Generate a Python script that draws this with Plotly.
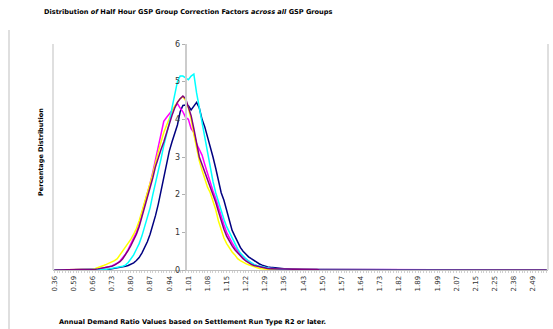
import plotly.graph_objects as go

# ---------------- data ----------------
cats_low = ["0.36", "0.44", "0.49", "0.52", "0.54", "0.56", "0.58"]
cats_mid = [f"{v / 100:.2f}" for v in range(59, 165)]
cats_high = ["1.65", "1.66", "1.67", "1.69", "1.70", "1.72", "1.73",
             "1.74", "1.76", "1.77", "1.78", "1.80", "1.81", "1.82",
             "1.83", "1.84", "1.85", "1.86", "1.87", "1.88", "1.89",
             "1.90", "1.92", "1.93", "1.95", "1.96", "1.98", "1.99",
             "2.00", "2.01", "2.02", "2.03", "2.04", "2.06", "2.07",
             "2.08", "2.09", "2.10", "2.11", "2.12", "2.14", "2.15",
             "2.16", "2.17", "2.19", "2.20", "2.22", "2.23", "2.25",
             "2.26", "2.28", "2.30", "2.32", "2.34", "2.36", "2.38",
             "2.39", "2.41", "2.42", "2.44", "2.45", "2.47", "2.49",
             "2.52", "2.56", "2.61", "2.68", "2.77"]
categories = cats_low + cats_mid + cats_high
tick_labels = ["0.36", "0.59", "0.66", "0.73", "0.80", "0.87", "0.94", "1.01", "1.08",
               "1.15", "1.22", "1.29", "1.36", "1.43", "1.50", "1.57", "1.64", "1.73",
               "1.82", "1.89", "1.99", "2.07", "2.15", "2.25", "2.38", "2.49"]
y_ticks = [0, 1, 2, 3, 4, 5, 6]

zeros_left = [0, 0, 0, 0, 0, 0, 0, 0, 0, 0, 0, 0, 0]  # 0.36 .. 0.64

navy = zeros_left + [
    0, 0, 0.01, 0.01, 0.01, 0.02, 0.02, 0.02, 0.03, 0.04, 0.05, 0.06, 0.08, 0.10, 0.12,
    0.15, 0.19, 0.25, 0.33, 0.45, 0.58, 0.75, 0.95, 1.18, 1.45, 1.75, 2.1, 2.4, 2.75,
    3.15, 3.4, 3.6, 3.85, 4.2, 4.37, 4.38, 4.36, 4.25, 4.35, 4.45, 4.3, 4.0, 3.8, 3.55,
    3.3, 3.0, 2.7, 2.35, 2.05, 1.85, 1.6, 1.3, 1.05, 0.9, 0.75, 0.6, 0.5, 0.42, 0.35,
    0.3, 0.25, 0.2, 0.16, 0.13, 0.1, 0.08, 0.07, 0.06, 0.05, 0.04, 0.04, 0.03, 0.03,
    0.02, 0.02, 0.02,
    0.01, 0.01, 0.01, 0.01, 0.01, 0.01, 0.01, 0.01, 0.01, 0.01, 0.01, 0.01, 0.01, 0.01,
    0, 0, 0, 0, 0, 0, 0, 0, 0, 0, 0, 0, 0, 0, 0, 0, 0, 0, 0, 0, 0, 0, 0, 0, 0, 0, 0, 0,
    0, 0, 0, 0, 0, 0, 0, 0, 0, 0, 0, 0, 0, 0, 0, 0, 0, 0, 0, 0, 0, 0, 0, 0, 0, 0, 0, 0,
    0, 0, 0, 0, 0, 0, 0, 0, 0, 0, 0, 0, 0, 0, 0, 0, 0, 0, 0, 0, 0, 0, 0, 0]

magenta = zeros_left + [
    0, 0.01, 0.02, 0.03, 0.04, 0.05, 0.07, 0.09, 0.11, 0.14, 0.18, 0.24, 0.32, 0.42,
    0.55, 0.7, 0.85, 1.0, 1.25, 1.5, 1.75, 2.0, 2.3, 2.6, 2.95, 3.3, 3.6, 3.95, 4.05,
    4.15, 4.25, 4.35, 4.42, 4.3, 4.2, 4.05, 4.0, 3.75, 3.65, 3.35, 3.2, 3.05, 2.8, 2.55,
    2.3, 2.1, 1.9, 1.65, 1.4, 1.2, 1.0, 0.85, 0.72, 0.6, 0.5, 0.42, 0.34, 0.28, 0.22,
    0.18, 0.14, 0.11, 0.09, 0.07, 0.06, 0.05, 0.04, 0.03, 0.03, 0.02, 0.02, 0.02, 0.01,
    0.01, 0.01, 0.01,
    0.01, 0.01, 0.01, 0.01, 0.01, 0.01, 0.01, 0.01, 0.01, 0.01, 0, 0, 0, 0,
    0, 0, 0, 0, 0, 0, 0, 0, 0, 0, 0, 0, 0, 0, 0, 0, 0, 0, 0, 0, 0, 0, 0, 0, 0, 0, 0, 0,
    0, 0, 0, 0, 0, 0, 0, 0, 0, 0, 0, 0, 0, 0, 0, 0, 0, 0, 0, 0, 0, 0, 0, 0, 0, 0, 0, 0,
    0, 0, 0, 0, 0, 0, 0, 0, 0, 0, 0, 0, 0, 0, 0, 0, 0, 0, 0, 0, 0, 0, 0, 0]

yellow = zeros_left + [
    0, 0.02, 0.04, 0.06, 0.09, 0.12, 0.15, 0.18, 0.2, 0.25, 0.3, 0.4, 0.5, 0.6, 0.72,
    0.82, 0.95, 1.1, 1.3, 1.55, 1.8, 2.0, 2.25, 2.55, 2.85, 3.15, 3.4, 3.65, 3.85, 4.05,
    4.2, 4.35, 4.45, 4.55, 4.6, 4.5, 4.3, 4.0, 3.6, 3.2, 2.9, 2.65, 2.4, 2.2, 2.05, 1.85,
    1.6, 1.3, 1.05, 0.85, 0.7, 0.58, 0.48, 0.4, 0.3, 0.25, 0.2, 0.17, 0.14, 0.11, 0.09,
    0.06, 0.04, 0.03, 0.02, 0.02, 0.01, 0.01, 0.01, 0.01, 0.01, 0, 0, 0, 0, 0,
    0, 0, 0, 0, 0, 0, 0, 0, 0, 0, 0, 0, 0, 0,
    0, 0, 0, 0, 0, 0, 0, 0, 0, 0, 0, 0, 0, 0, 0, 0, 0, 0, 0, 0, 0, 0, 0, 0, 0, 0, 0, 0,
    0, 0, 0, 0, 0, 0, 0, 0, 0, 0, 0, 0, 0, 0, 0, 0, 0, 0, 0, 0, 0, 0, 0, 0, 0, 0, 0, 0,
    0, 0, 0, 0, 0, 0, 0, 0, 0, 0, 0, 0, 0, 0, 0, 0, 0, 0, 0, 0, 0, 0, 0, 0]

cyan = zeros_left + [
    0, 0, 0, 0.01, 0.01, 0.02, 0.02, 0.03, 0.04, 0.05, 0.06, 0.08, 0.1, 0.13, 0.2, 0.3,
    0.4, 0.55, 0.7, 0.9, 1.15, 1.4, 1.65, 2.0, 2.3, 2.65, 2.95, 3.3, 3.6, 3.9, 4.3, 4.7,
    5.0, 5.15, 5.15, 5.1, 5.05, 5.15, 5.2, 4.7, 4.3, 3.9, 3.5, 3.05, 2.7, 2.35, 2.05,
    1.8, 1.55, 1.35, 1.15, 1.0, 0.82, 0.68, 0.56, 0.45, 0.36, 0.3, 0.24, 0.19, 0.15,
    0.12, 0.1, 0.08, 0.06, 0.05, 0.04, 0.04, 0.03, 0.03, 0.02, 0.02, 0.01, 0.01, 0.01,
    0.01,
    0.01, 0.01, 0.01, 0.01, 0.01, 0.01, 0, 0, 0, 0, 0, 0, 0, 0,
    0, 0, 0, 0, 0, 0, 0, 0, 0, 0, 0, 0, 0, 0, 0, 0, 0, 0, 0, 0, 0, 0, 0, 0, 0, 0, 0, 0,
    0, 0, 0, 0, 0, 0, 0, 0, 0, 0, 0, 0, 0, 0, 0, 0, 0, 0, 0, 0, 0, 0, 0, 0, 0, 0, 0, 0,
    0, 0, 0, 0, 0, 0, 0, 0, 0, 0, 0, 0, 0, 0, 0, 0, 0, 0, 0, 0, 0, 0, 0, 0]

purple = zeros_left + [
    0, 0.01, 0.02, 0.03, 0.04, 0.05, 0.06, 0.08, 0.1, 0.13, 0.17, 0.22, 0.3, 0.4, 0.52,
    0.65, 0.8, 0.95, 1.15, 1.4, 1.65, 1.9, 2.15, 2.45, 2.75, 3.0, 3.2, 3.4, 3.65, 3.9,
    4.1, 4.3, 4.45, 4.55, 4.62, 4.55, 4.35, 4.1, 3.75, 3.35, 3.0, 2.8, 2.6, 2.4, 2.2,
    2.02, 1.8, 1.55, 1.3, 1.08, 0.9, 0.76, 0.64, 0.54, 0.45, 0.37, 0.3, 0.24, 0.19,
    0.15, 0.12, 0.1, 0.08, 0.06, 0.05, 0.04, 0.03, 0.03, 0.02, 0.02, 0.01, 0.01, 0.01,
    0.01, 0.01, 0.01,
    0.01, 0.01, 0.01, 0.01, 0.01, 0.01, 0.01, 0.01, 0, 0, 0, 0, 0, 0,
    0, 0, 0, 0, 0, 0, 0, 0, 0, 0, 0, 0, 0, 0, 0, 0, 0, 0, 0, 0, 0, 0, 0, 0, 0, 0, 0, 0,
    0, 0, 0, 0, 0, 0, 0, 0, 0, 0, 0, 0, 0, 0, 0, 0, 0, 0, 0, 0, 0, 0, 0, 0, 0, 0, 0, 0,
    0, 0, 0, 0, 0, 0, 0, 0, 0, 0, 0, 0, 0, 0, 0, 0, 0, 0, 0, 0, 0, 0, 0, 0]

series = [("Series 1", navy, "#000080"), ("Series 2", magenta, "#FF00FF"),
          ("Series 3", yellow, "#FFFF00"), ("Series 4", cyan, "#00FFFF"),
          ("Series 5", purple, "#800080")]
axis_cross = "1.00"

# ---------------- figure ----------------
n = len(categories)
fig = go.Figure()
for name, vals, col in series:
    fig.add_trace(go.Scatter(x=categories, y=vals[:n], mode="lines", name=name,
                             line=dict(color=col, width=1.5), hoverinfo="skip"))

W, H = 553, 329
L, R, T, B = 53, 5, 44, 59
pw, ph = W - L - R, H - T - B

def px(xp):
    return (xp - L) / pw

def py(yp):
    return (H - B - yp) / ph

ypos = (categories.index(axis_cross) + 0.5) / n
tickfont = dict(family="DejaVu Sans", size=7, color="#333333")
tick_text_all = [c if c in tick_labels and categories.index(c) % 7 == 0 else "" for c in categories]

fig.update_layout(
    width=W, height=H, margin=dict(l=L, r=R, t=T, b=B, autoexpand=False),
    paper_bgcolor="white", plot_bgcolor="white", showlegend=False,
    xaxis=dict(type="category", categoryorder="array", categoryarray=categories,
               range=[-0.5, n - 0.5], tickmode="array", tickvals=categories,
               ticktext=tick_text_all, tickangle=-90, tickfont=tickfont,
               ticks="outside", ticklen=2, tickcolor="#d0d0d0", tickwidth=1,
               showline=True, linecolor="#c0c0c0", linewidth=1, automargin=False,
               showgrid=False, zeroline=False, fixedrange=True),
    yaxis=dict(range=[0, 6], tickvals=y_ticks, anchor="free", position=ypos,
               tickfont=dict(family="DejaVu Sans", size=8, color="#333333"),
               ticks="outside", ticklen=3, tickcolor="#b0b0b0", automargin=False,
               showline=True, linecolor="#cccccc", linewidth=2,
               showgrid=False, zeroline=False, fixedrange=True),
    shapes=[
        dict(type="line", xref="paper", yref="paper", x0=0, x1=0, y0=0, y1=1,
             line=dict(color="#d4d4d4", width=1.5)),
        dict(type="line", xref="paper", yref="paper", x0=1, x1=1, y0=0, y1=1,
             line=dict(color="#d4d4d4", width=1.5)),
        dict(type="line", xref="paper", yref="paper", x0=px(9), x1=px(9), y0=py(329), y1=py(30),
             line=dict(color="#d4d4d4", width=1.5)),
    ],
    annotations=[
        dict(text="<b>Distribution <i>of</i> Half Hour GSP Group Correction Factors <i>across all</i> GSP Groups</b>",
             xref="paper", yref="paper", x=px(42), y=py(12), xanchor="left", yanchor="middle",
             showarrow=False, font=dict(family="DejaVu Sans", size=6.6, color="#000000")),
        dict(text="<b>Percentage Distribution</b>", textangle=-90,
             xref="paper", yref="paper", x=px(41), y=py(152), xanchor="center", yanchor="middle",
             showarrow=False, font=dict(family="DejaVu Sans", size=6.5, color="#000000")),
        dict(text="<b>Annual Demand Ratio Values based on Settlement Run Type R2 or later.</b>",
             xref="paper", yref="paper", x=px(57), y=py(322), xanchor="left", yanchor="middle",
             showarrow=False, font=dict(family="DejaVu Sans", size=6.6, color="#000000")),
    ],
)
fig.write_html("out.html", config={"displayModeBar": False},
               post_script="document.body.style.margin='0px';document.body.style.overflow='hidden';")
